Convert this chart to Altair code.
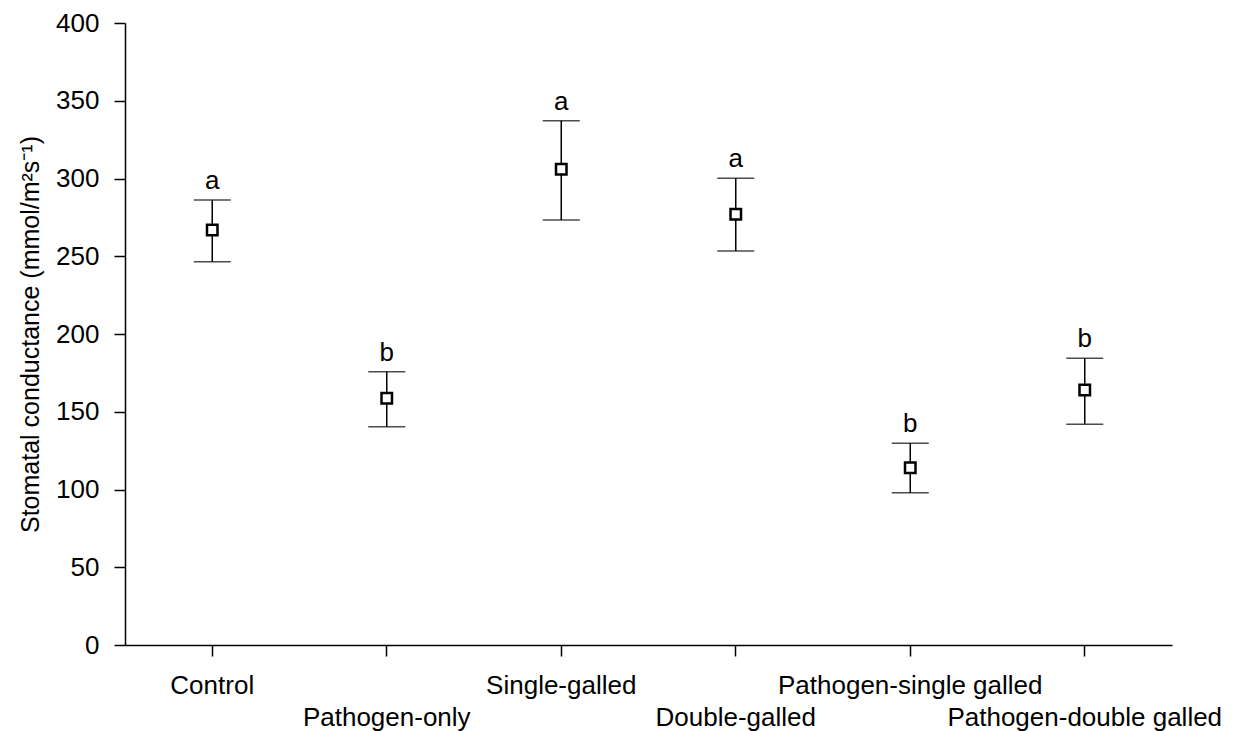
import altair as alt
import pandas as pd

# Treatment groups and their stomatal conductance summaries
treatments = [
    "Control",
    "Pathogen-only",
    "Single-galled",
    "Double-galled",
    "Pathogen-single galled",
    "Pathogen-double galled",
]
means = [266.9, 158.7, 305.9, 277.0, 114.0, 164.0]
upper = [286.2, 175.8, 337.2, 300.1, 129.7, 184.4]
lower = [246.5, 140.4, 273.3, 253.4, 97.9, 141.9]
letters = ["a", "b", "a", "a", "b", "b"]

df = pd.DataFrame(
    {
        "treatment": treatments,
        "mean": means,
        "upper": upper,
        "lower": lower,
        "letter": letters,
    }
)

FONT = "Liberation Sans"
FS = 26

# Every second category label sits on a lower row
lower_row = "['Pathogen-only', 'Double-galled', 'Pathogen-double galled']"

x_enc = alt.X(
    "treatment:N",
    sort=treatments,
    scale=alt.Scale(paddingInner=0, paddingOuter=0),
    axis=alt.Axis(
        title=None,
        labelAngle=0,
        labelFont=FONT,
        labelFontSize=FS,
        labelColor="black",
        labelBaseline="top",
        labelPadding={"expr": f"indexof({lower_row}, datum.value) >= 0 ? 48 : 16"},
        tickSize=11,
        tickColor="black",
        tickWidth=1.5,
        domainColor="black",
        domainWidth=1.5,
        labelOverlap=False,
        labelLimit=0,
    ),
)

y_scale = alt.Scale(domain=[0, 400], nice=False)

base = alt.Chart(df)

rules = base.mark_rule(color="black", strokeWidth=1.5).encode(
    x=x_enc,
    y=alt.Y(
        "lower:Q",
        scale=y_scale,
        axis=alt.Axis(
            title="Stomatal conductance (mmol/m²s⁻¹)",
            titleFont=FONT,
            titleFontSize=25,
            titleFontWeight="normal",
            titleColor="black",
            titlePadding=12,
            values=list(range(0, 401, 50)),
            labelFont=FONT,
            labelFontSize=FS,
            labelColor="black",
            labelPadding=15,
            tickSize=11,
            tickColor="black",
            tickWidth=1.5,
            domainColor="black",
            domainWidth=1.5,
            grid=False,
        ),
    ),
    y2="upper:Q",
)

caps_top = base.mark_tick(color="black", thickness=1.5, size=37).encode(
    x=alt.X("treatment:N", sort=treatments), y=alt.Y("upper:Q", scale=y_scale)
)
caps_bottom = base.mark_tick(color="black", thickness=1.5, size=37).encode(
    x=alt.X("treatment:N", sort=treatments), y=alt.Y("lower:Q", scale=y_scale)
)

points = base.mark_point(
    shape="square", size=110, filled=True, fill="white", stroke="black", strokeWidth=2.5, opacity=1
).encode(x=alt.X("treatment:N", sort=treatments), y=alt.Y("mean:Q", scale=y_scale))

labels = base.mark_text(
    font=FONT, fontSize=FS, color="black", baseline="alphabetic", dy=-11
).encode(
    x=alt.X("treatment:N", sort=treatments),
    y=alt.Y("upper:Q", scale=y_scale),
    text="letter:N",
)

chart = (
    alt.layer(rules, caps_top, caps_bottom, points, labels)
    .properties(
        width=1047,
        height=622,
        autosize=alt.AutoSizeParams(type="none"),
        padding={"left": 125, "top": 23, "right": 64, "bottom": 86},
        background="white",
    )
    .configure_view(stroke=None)
)

chart.save("out.html", embed_options={"renderer": "svg", "actions": False})
